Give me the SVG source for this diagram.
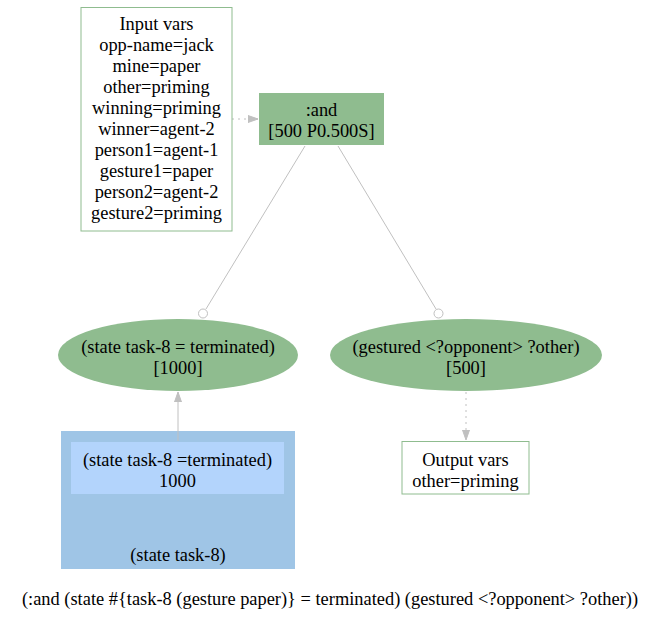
<svg xmlns="http://www.w3.org/2000/svg" width="660" height="620" viewBox="0 0 660 620">
<style>
text { font-family: "Liberation Serif", "Times New Roman", serif; font-size: 18.4px; fill: #000; text-anchor: middle; }
.edge { stroke: #c0c0c0; fill: none; stroke-width: 1; }
</style>
<defs>
<marker id="arr" viewBox="0 0 10 10" refX="10" refY="5" markerWidth="10" markerHeight="10" markerUnits="userSpaceOnUse" orient="auto">
<path d="M0,1.5 L10,5 L0,8.5 Z" fill="#c0c0c0" stroke="#c0c0c0"/>
</marker>
</defs>
<rect width="660" height="620" fill="#fff"/>
<g id="cluster">
<rect x="61" y="431" width="234" height="138" fill="#9fc5e6"/>
<text x="178" y="561">(state task-8)</text>
</g>
<g id="connectors">
<line class="edge" x1="232" y1="119" x2="258" y2="119" stroke-dasharray="2,4" marker-end="url(#arr)"/>
<line class="edge" x1="305" y1="146" x2="206" y2="309"/>
<circle cx="203" cy="313.5" r="4.5" fill="#fff" stroke="#c0c0c0"/>
<line class="edge" x1="338" y1="146" x2="436" y2="309"/>
<circle cx="438.5" cy="313.5" r="4.5" fill="#fff" stroke="#c0c0c0"/>
<line class="edge" x1="466" y1="392" x2="466" y2="440" stroke-dasharray="2,4" marker-end="url(#arr)"/>
<line class="edge" x1="178" y1="441" x2="178" y2="392" marker-end="url(#arr)"/>
</g>
<g id="input">
<rect x="81" y="7.5" width="151" height="223.5" fill="#fff" stroke="#8fbc8f"/>
<text x="156.5" y="30">Input vars</text>
<text x="156.5" y="51">opp-name=jack</text>
<text x="156.5" y="72">mine=paper</text>
<text x="156.5" y="93">other=priming</text>
<text x="156.5" y="114">winning=priming</text>
<text x="156.5" y="135">winner=agent-2</text>
<text x="156.5" y="156">person1=agent-1</text>
<text x="156.5" y="177">gesture1=paper</text>
<text x="156.5" y="198">person2=agent-2</text>
<text x="156.5" y="219">gesture2=priming</text>
</g>
<g id="and">
<rect x="259" y="93" width="125" height="52" fill="#8fbc8f"/>
<text x="321.5" y="116">:and</text>
<text x="321.5" y="137">[500 P0.500S]</text>
</g>
<g id="state">
<ellipse cx="178" cy="355" rx="120" ry="36" fill="#8fbc8f"/>
<text x="178" y="353">(state task-8 = terminated)</text>
<text x="178" y="374">[1000]</text>
</g>
<g id="gestured">
<ellipse cx="466" cy="355" rx="136" ry="36" fill="#8fbc8f"/>
<text x="466" y="353">(gestured &lt;?opponent&gt; ?other)</text>
<text x="466" y="374">[500]</text>
</g>
<g id="output">
<rect x="402" y="441.5" width="127" height="52.5" fill="#fff" stroke="#8fbc8f"/>
<text x="465.5" y="466">Output vars</text>
<text x="465.5" y="487">other=priming</text>
</g>
<g id="inner">
<rect x="71" y="442" width="213" height="52" fill="#b3d4fc"/>
<text x="177.5" y="466">(state task-8 =terminated)</text>
<text x="177.5" y="487">1000</text>
</g>
<text x="330" y="605">(:and (state #{task-8 (gesture paper)} = terminated) (gestured &lt;?opponent&gt; ?other))</text>
</svg>
